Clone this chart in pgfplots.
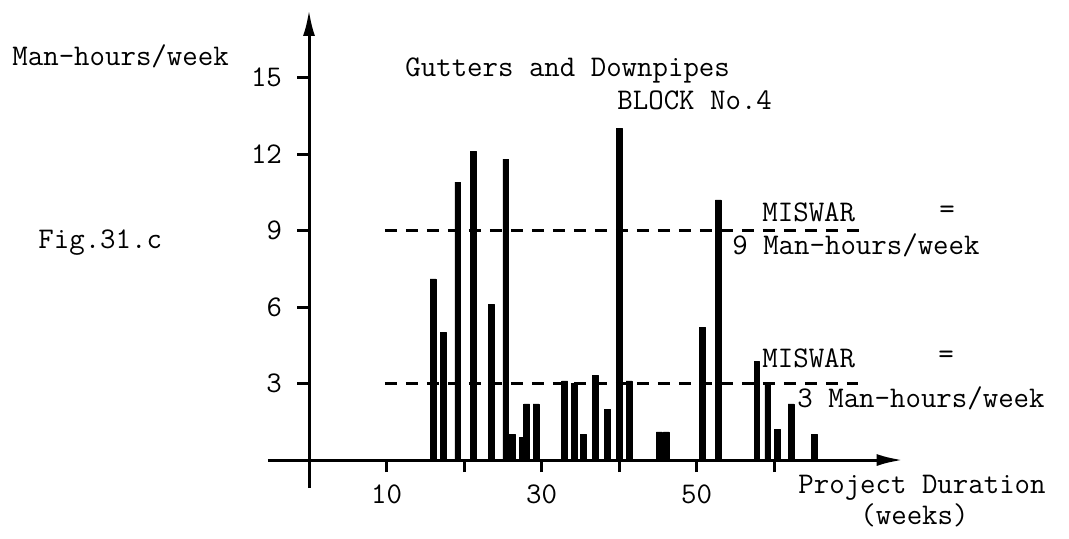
\documentclass[border=0pt]{standalone}
\usepackage{fontspec}
\usepackage{pgfplots}
\pgfplotsset{compat=1.18}
\usetikzlibrary{arrows.meta}
\newcommand\tw{\fontsize{15}{18}\selectfont\ttfamily\addfontfeatures{FakeBold=1.2}}

\begin{document}
\begin{tikzpicture}
\useasboundingbox (0,0) rectangle (534.5pt,-269pt);
\begin{axis}[
  at={(154.5pt,-230pt)}, anchor=origin,
  x=3.875pt, y=12.75pt,
  xmin=-5.3, xmax=76.6, ymin=-1.1, ymax=17.65,
  axis lines=middle,
  axis line style={line width=1.5pt,-{Latex[length=13pt,width=6pt]}},
  xtick={10,20,30,40,50,60},
  xticklabels={10,,30,,50,},
  ytick={3,6,9,12,15},
  tick align=outside,
  major tick length=6pt,
  tick style={line width=1.5pt,black},
  /pgf/number format/assume math mode=true,
  tick label style={font=\tw},
  xticklabel style={yshift=-3pt},
  yticklabel style={xshift=-4pt},
  clip=false
]
% weekly man-hours
\addplot[ybar,bar width=0.75,fill=black,draw=black,line join=round] coordinates {
  (16.0,7.1)(17.3,5.0)(19.2,10.9)(21.2,12.1)(23.5,6.1)(25.4,11.8)
  (26.2,1.0)(27.5,0.9)(28.1,2.2)(29.3,2.2)(33.0,3.1)(34.2,3.0)
  (35.4,1.0)(37.0,3.3)(38.5,2.0)(40.0,13.0)(41.3,3.1)(45.2,1.1)
  (46.1,1.1)(50.8,5.2)(52.8,10.2)(57.8,3.85)(59.2,3.0)(60.4,1.2)
  (62.2,2.2)(65.2,1.0)};
% MISWAR levels
\addplot[black,line width=1.2pt,dash pattern=on 6pt off 4.5pt] coordinates {(9.8,9)(71.3,9)};
\addplot[black,line width=1.2pt,dash pattern=on 6pt off 4.5pt] coordinates {(9.8,3)(70.8,3)};
\end{axis}
\begin{scope}[every node/.style={font=\tw,inner sep=0pt,anchor=west}]
\node at (6pt,-28pt) {Man-hours/week};
\node at (202.5pt,-35pt) {Gutters and Downpipes};
\node at (308.5pt,-50pt) {BLOCK No.4};
\node at (19pt,-121.5pt) {Fig.31.c};
\node at (381pt,-106pt) {MISWAR};
\node[anchor=center] at (473.5pt,-106pt) {=};
\node at (366pt,-122.5pt) {9 Man-hours/week};
\node at (381pt,-179pt) {MISWAR};
\node[anchor=center] at (473pt,-178.5pt) {=};
\node at (398.5pt,-199pt) {3 Man-hours/week};
\node at (399pt,-244pt) {Project Duration};
\node at (430pt,-257.5pt) {(weeks)};
\end{scope}
\end{tikzpicture}
\end{document}
